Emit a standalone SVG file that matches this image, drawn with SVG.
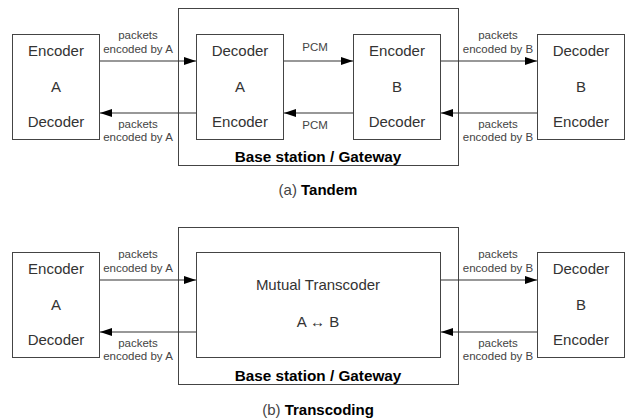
<svg xmlns="http://www.w3.org/2000/svg" width="627" height="419" viewBox="0 0 627 419">
<defs>
<style>
.box{fill:#fff;stroke:#444;stroke-width:1}
.frame{fill:none;stroke:#444;stroke-width:1}
.n{font-family:"Liberation Sans",Arial,sans-serif;font-size:15px;fill:#333;text-anchor:middle}
.l{font-family:"Liberation Sans",Arial,sans-serif;font-size:11.5px;fill:#444;text-anchor:middle}
.b{font-family:"Liberation Sans",Arial,sans-serif;font-size:15.3px;font-weight:bold;fill:#000;text-anchor:middle}
.c{font-family:"Liberation Sans",Arial,sans-serif;font-size:15px;fill:#444}
.cb{font-weight:bold;fill:#000}
.e{stroke:#333;stroke-width:1.2;fill:none;marker-end:url(#ah)}
</style>
<marker id="ah" viewBox="0 0 12 8" refX="12" refY="4" markerWidth="12" markerHeight="8" markerUnits="userSpaceOnUse" orient="auto">
<path d="M0,0 L12,4 L0,8 Z" fill="#000"/>
</marker>
</defs>
<rect width="627" height="419" fill="#fff"/>

<!-- (a) Tandem -->
<g id="bs-a">
<rect class="frame" x="178.5" y="8.5" width="280" height="157"/>
<text class="b" x="318" y="162">Base station / Gateway</text>
</g>
<g id="a-left">
<rect class="box" x="12.5" y="34.5" width="87" height="105"/>
<text class="n" x="56" y="56">Encoder</text>
<text class="n" x="56" y="92">A</text>
<text class="n" x="56" y="127">Decoder</text>
</g>
<g id="a-decA">
<rect class="box" x="196.5" y="34.5" width="87" height="105"/>
<text class="n" x="240" y="56">Decoder</text>
<text class="n" x="240" y="92">A</text>
<text class="n" x="240" y="127">Encoder</text>
</g>
<g id="a-encB">
<rect class="box" x="353.5" y="34.5" width="87" height="105"/>
<text class="n" x="397" y="56">Encoder</text>
<text class="n" x="397" y="92">B</text>
<text class="n" x="397" y="127">Decoder</text>
</g>
<g id="a-right">
<rect class="box" x="537.5" y="34.5" width="87" height="105"/>
<text class="n" x="581" y="56">Decoder</text>
<text class="n" x="581" y="92">B</text>
<text class="n" x="581" y="127">Encoder</text>
</g>
<g id="a-connectors">
<line class="e" x1="100" y1="61" x2="196" y2="61"/>
<line class="e" x1="284" y1="61" x2="353" y2="61"/>
<line class="e" x1="441" y1="61" x2="537" y2="61"/>
<line class="e" x1="196" y1="113" x2="100" y2="113"/>
<line class="e" x1="353" y1="113" x2="284" y2="113"/>
<line class="e" x1="537" y1="113" x2="441" y2="113"/>
<text class="l" x="138" y="39">packets</text>
<text class="l" x="138" y="53">encoded by A</text>
<text class="l" x="138" y="128">packets</text>
<text class="l" x="138" y="141">encoded by A</text>
<text class="l" x="315" y="51">PCM</text>
<text class="l" x="315" y="129">PCM</text>
<text class="l" x="498" y="39">packets</text>
<text class="l" x="498" y="53">encoded by B</text>
<text class="l" x="498" y="128">packets</text>
<text class="l" x="498" y="141">encoded by B</text>
</g>
<text class="c" x="318" y="195" text-anchor="middle">(a) <tspan class="cb">Tandem</tspan></text>

<!-- (b) Transcoding -->
<g id="bs-b">
<rect class="frame" x="178.5" y="227.5" width="280" height="157"/>
<text class="b" x="318" y="381">Base station / Gateway</text>
</g>
<g id="b-left">
<rect class="box" x="12.5" y="252.5" width="87" height="105"/>
<text class="n" x="56" y="274">Encoder</text>
<text class="n" x="56" y="310">A</text>
<text class="n" x="56" y="345">Decoder</text>
</g>
<g id="b-trans">
<rect class="box" x="196.5" y="252.5" width="244" height="105"/>
<text class="n" x="318" y="290">Mutual Transcoder</text>
<text class="n" x="318" y="327">A ↔ B</text>
</g>
<g id="b-right">
<rect class="box" x="537.5" y="252.5" width="87" height="105"/>
<text class="n" x="581" y="274">Decoder</text>
<text class="n" x="581" y="310">B</text>
<text class="n" x="581" y="345">Encoder</text>
</g>
<g id="b-connectors">
<line class="e" x1="100" y1="280" x2="196" y2="280"/>
<line class="e" x1="441" y1="280" x2="537" y2="280"/>
<line class="e" x1="196" y1="332" x2="100" y2="332"/>
<line class="e" x1="537" y1="332" x2="441" y2="332"/>
<text class="l" x="138" y="258">packets</text>
<text class="l" x="138" y="272">encoded by A</text>
<text class="l" x="138" y="347">packets</text>
<text class="l" x="138" y="360">encoded by A</text>
<text class="l" x="498" y="258">packets</text>
<text class="l" x="498" y="272">encoded by B</text>
<text class="l" x="498" y="347">packets</text>
<text class="l" x="498" y="360">encoded by B</text>
</g>
<text class="c" x="318" y="415" text-anchor="middle">(b) <tspan class="cb">Transcoding</tspan></text>
</svg>
